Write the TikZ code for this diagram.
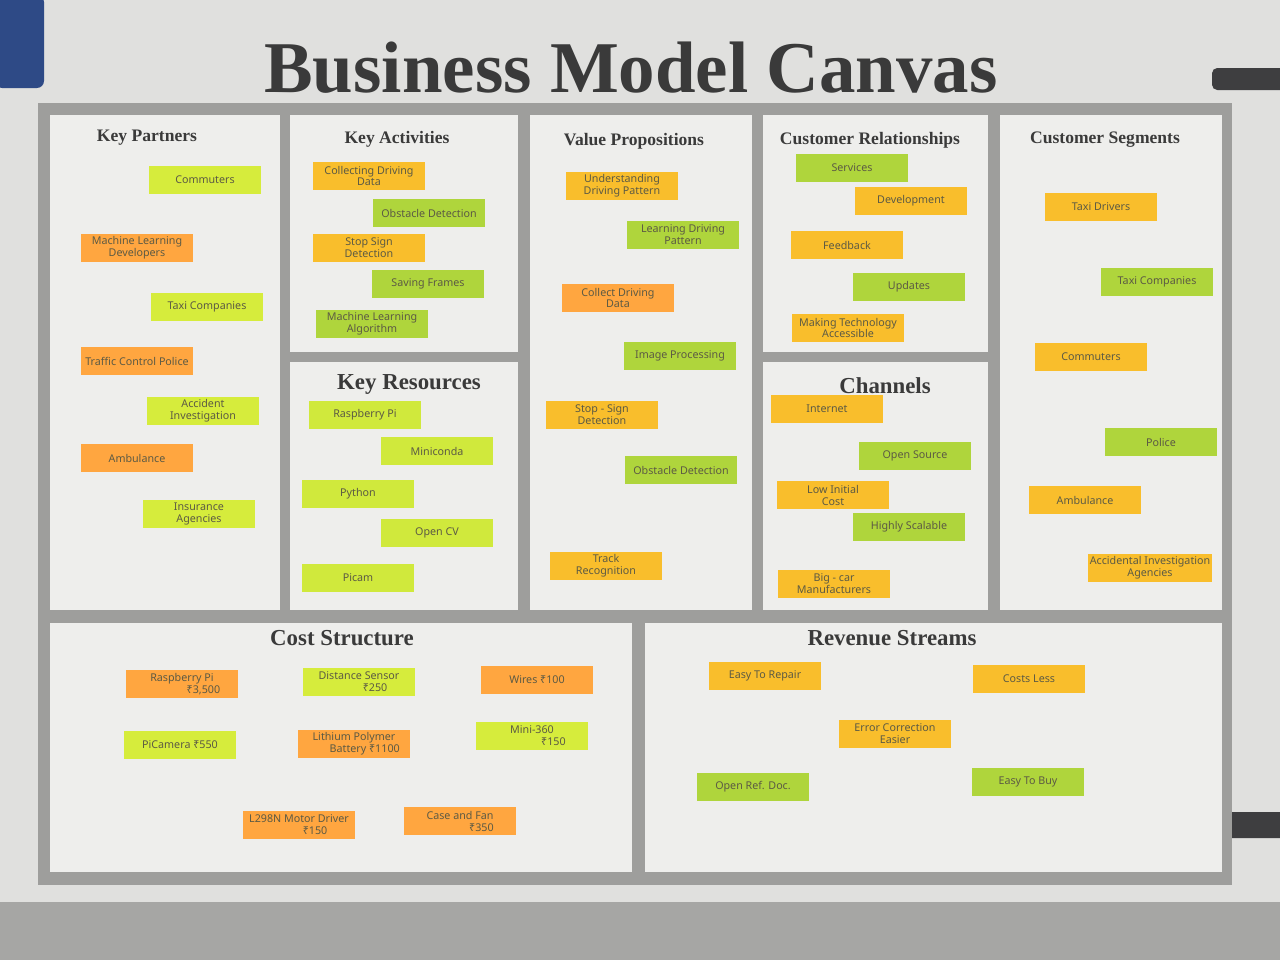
\documentclass[tikz,border=0pt]{standalone}
\usepackage{fontspec}
\setmainfont{Liberation Serif}
\newfontfamily\notefont{Noto Sans}
\usetikzlibrary{positioning}

\definecolor{bgposter}{HTML}{E0E0DE}
\definecolor{bgfloor}{HTML}{A6A6A4}
\definecolor{cframe}{HTML}{9E9E9C}
\definecolor{cpanel}{HTML}{EEEEEC}
\definecolor{nlime}{HTML}{D6EC3C}
\definecolor{nleaf}{HTML}{AFD53C}
\definecolor{namber}{HTML}{F9BE2C}
\definecolor{npeach}{HTML}{FFA640}
\definecolor{cink}{HTML}{3A3A3A}
\definecolor{cpencil}{HTML}{5C5A44}
\definecolor{ctape}{HTML}{3E3E40}
\definecolor{cblue}{HTML}{2E4A86}

\begin{document}
\begin{tikzpicture}[x=0.02cm, y=-0.02cm,
 note/.style={fill=#1, minimum width=2.24cm, minimum height=0.56cm, inner sep=1pt, align=center, text=cpencil, font=\notefont\fontsize{6.1}{6.8}\selectfont},
 head/.style={text=cink, font=\bfseries\fontsize{10}{12}\selectfont},
 bighead/.style={text=cink, font=\bfseries\fontsize{13}{15}\selectfont}]
\useasboundingbox (0,0) rectangle (1280,960);
% photo background and frame
\fill[bgposter] (0,0) rectangle (1280,960);
\fill[bgfloor] (0,902) rectangle (1280,960);
\fill[cblue, rounded corners=4pt] (-5,-5) rectangle (44,88);
\fill[ctape, rounded corners=3pt] (1212,68) rectangle (1285,90);
\fill[ctape, rounded corners=3pt] (1222,812) rectangle (1285,838);
\fill[cframe] (38,103) rectangle (1232,885);
\fill[cpanel] (50,115) rectangle (280,610);
\fill[cpanel] (290,115) rectangle (518,352);
\fill[cpanel] (290,362) rectangle (518,610);
\fill[cpanel] (530,115) rectangle (752,610);
\fill[cpanel] (763,115) rectangle (988,352);
\fill[cpanel] (763,362) rectangle (988,610);
\fill[cpanel] (1000,115) rectangle (1222,610);
\fill[cpanel] (50,623) rectangle (632,872);
\fill[cpanel] (645,623) rectangle (1222,872);

\node[text=cink, font=\bfseries\fontsize{41.5}{46}\selectfont] (title) at (631,68) {Business Model Canvas};
\node[head] (hkp) at (147,138) {Key Partners};
\node[head] (hka) at (397,139) {Key Activities};
\node[head] (hvp) at (634,141) {Value Propositions};
\node[head] (hcr) at (870,140) {Customer Relationships};
\node[head] (hcs) at (1105,140) {Customer Segments};
\node[bighead] (hkr) at (409,384) {Key Resources};
\node[bighead] (hch) at (885,386) {Channels};
\node[bighead] (hco) at (342,638) {Cost Structure};
\node[bighead] (hrs) at (892,638) {Revenue Streams};

% key partners
\node[note=nlime] (kp1) at (205,180) {Commuters};
\node[note=npeach] (kp2) at (137,248) {Machine Learning\\ Developers};
\node[note=nlime] (kp3) at (207,307) {Taxi Companies};
\node[note=npeach] (kp4) at (137,361) {Traffic Control Police};
\node[note=nlime] (kp5) at (203,411) {Accident\\ Investigation};
\node[note=npeach] (kp6) at (137,458) {Ambulance};
\node[note=nlime] (kp7) at (199,514) {Insurance\\ Agencies};

% key activities
\node[note=namber] (ka1) at (369,176) {Collecting Driving\\ Data};
\node[note=nleaf] (ka2) at (429,213) {Obstacle Detection};
\node[note=namber] (ka3) at (369,248) {Stop Sign\\ Detection};
\node[note=nleaf] (ka4) at (428,284) {Saving Frames};
\node[note=nleaf] (ka5) at (372,324) {Machine Learning\\ Algorithm};

% key resources
\node[note=nlime!85!nleaf] (kr1) at (365,415) {Raspberry Pi};
\node[note=nlime!85!nleaf] (kr2) at (437,451) {Miniconda};
\node[note=nlime!85!nleaf] (kr3) at (358,494) {Python};
\node[note=nlime!85!nleaf] (kr4) at (437,533) {Open CV};
\node[note=nlime!85!nleaf] (kr5) at (358,578) {Picam};

% value propositions
\node[note=namber] (vp1) at (622,186) {Understanding\\ Driving Pattern};
\node[note=nleaf] (vp2) at (683,235) {Learning Driving\\ Pattern};
\node[note=npeach] (vp3) at (618,298) {Collect Driving\\ Data};
\node[note=nleaf] (vp4) at (680,356) {Image Processing};
\node[note=namber] (vp5) at (602,415) {Stop - Sign\\ Detection};
\node[note=nleaf] (vp6) at (681,470) {Obstacle Detection};
\node[note=namber] (vp7) at (606,566) {Track\\ Recognition};

% customer relationships
\node[note=nleaf] (cr1) at (852,168) {Services};
\node[note=namber] (cr2) at (911,201) {Development};
\node[note=namber] (cr3) at (847,245) {Feedback};
\node[note=nleaf] (cr4) at (909,287) {Updates};
\node[note=namber] (cr5) at (848,328) {Making Technology\\ Accessible};

% channels
\node[note=namber] (ch1) at (827,409) {Internet};
\node[note=nleaf] (ch2) at (915,456) {Open Source};
\node[note=namber] (ch3) at (833,495) {Low Initial\\ Cost};
\node[note=nleaf] (ch4) at (909,527) {Highly Scalable};
\node[note=namber] (ch5) at (834,584) {Big - car\\ Manufacturers};

% customer segments
\node[note=namber] (cs1) at (1101,207) {Taxi Drivers};
\node[note=nleaf] (cs2) at (1157,282) {Taxi Companies};
\node[note=namber] (cs3) at (1091,357) {Commuters};
\node[note=nleaf] (cs4) at (1161,442) {Police};
\node[note=namber] (cs5) at (1085,500) {Ambulance};
\node[note=namber] (cs6) at (1150,568) {Accidental Investigation\\ Agencies};

% cost structure
\node[note=npeach] (co1) at (182,684) {Raspberry Pi\\ \hspace*{4em}₹3,500};
\node[note=nlime] (co2) at (359,682) {Distance Sensor\\ \hspace*{3em}₹250};
\node[note=npeach] (co3) at (537,680) {Wires ₹100};
\node[note=nlime] (co4) at (180,745) {PiCamera ₹550};
\node[note=npeach] (co5) at (354,744) {Lithium Polymer\\ \hspace*{2em}Battery ₹1100};
\node[note=nlime] (co6) at (532,736) {Mini-360\\ \hspace*{4em}₹150};
\node[note=npeach] (co7) at (299,825) {L298N Motor Driver\\ \hspace*{3em}₹150};
\node[note=npeach] (co8) at (460,821) {Case and Fan\\ \hspace*{4em}₹350};

% revenue streams
\node[note=namber] (rs1) at (765,676) {Easy To Repair};
\node[note=namber] (rs2) at (1029,679) {Costs Less};
\node[note=namber] (rs3) at (895,734) {Error Correction\\ Easier};
\node[note=nleaf] (rs4) at (753,787) {Open Ref. Doc.};
\node[note=nleaf] (rs5) at (1028,782) {Easy To Buy};
\end{tikzpicture}
\end{document}
